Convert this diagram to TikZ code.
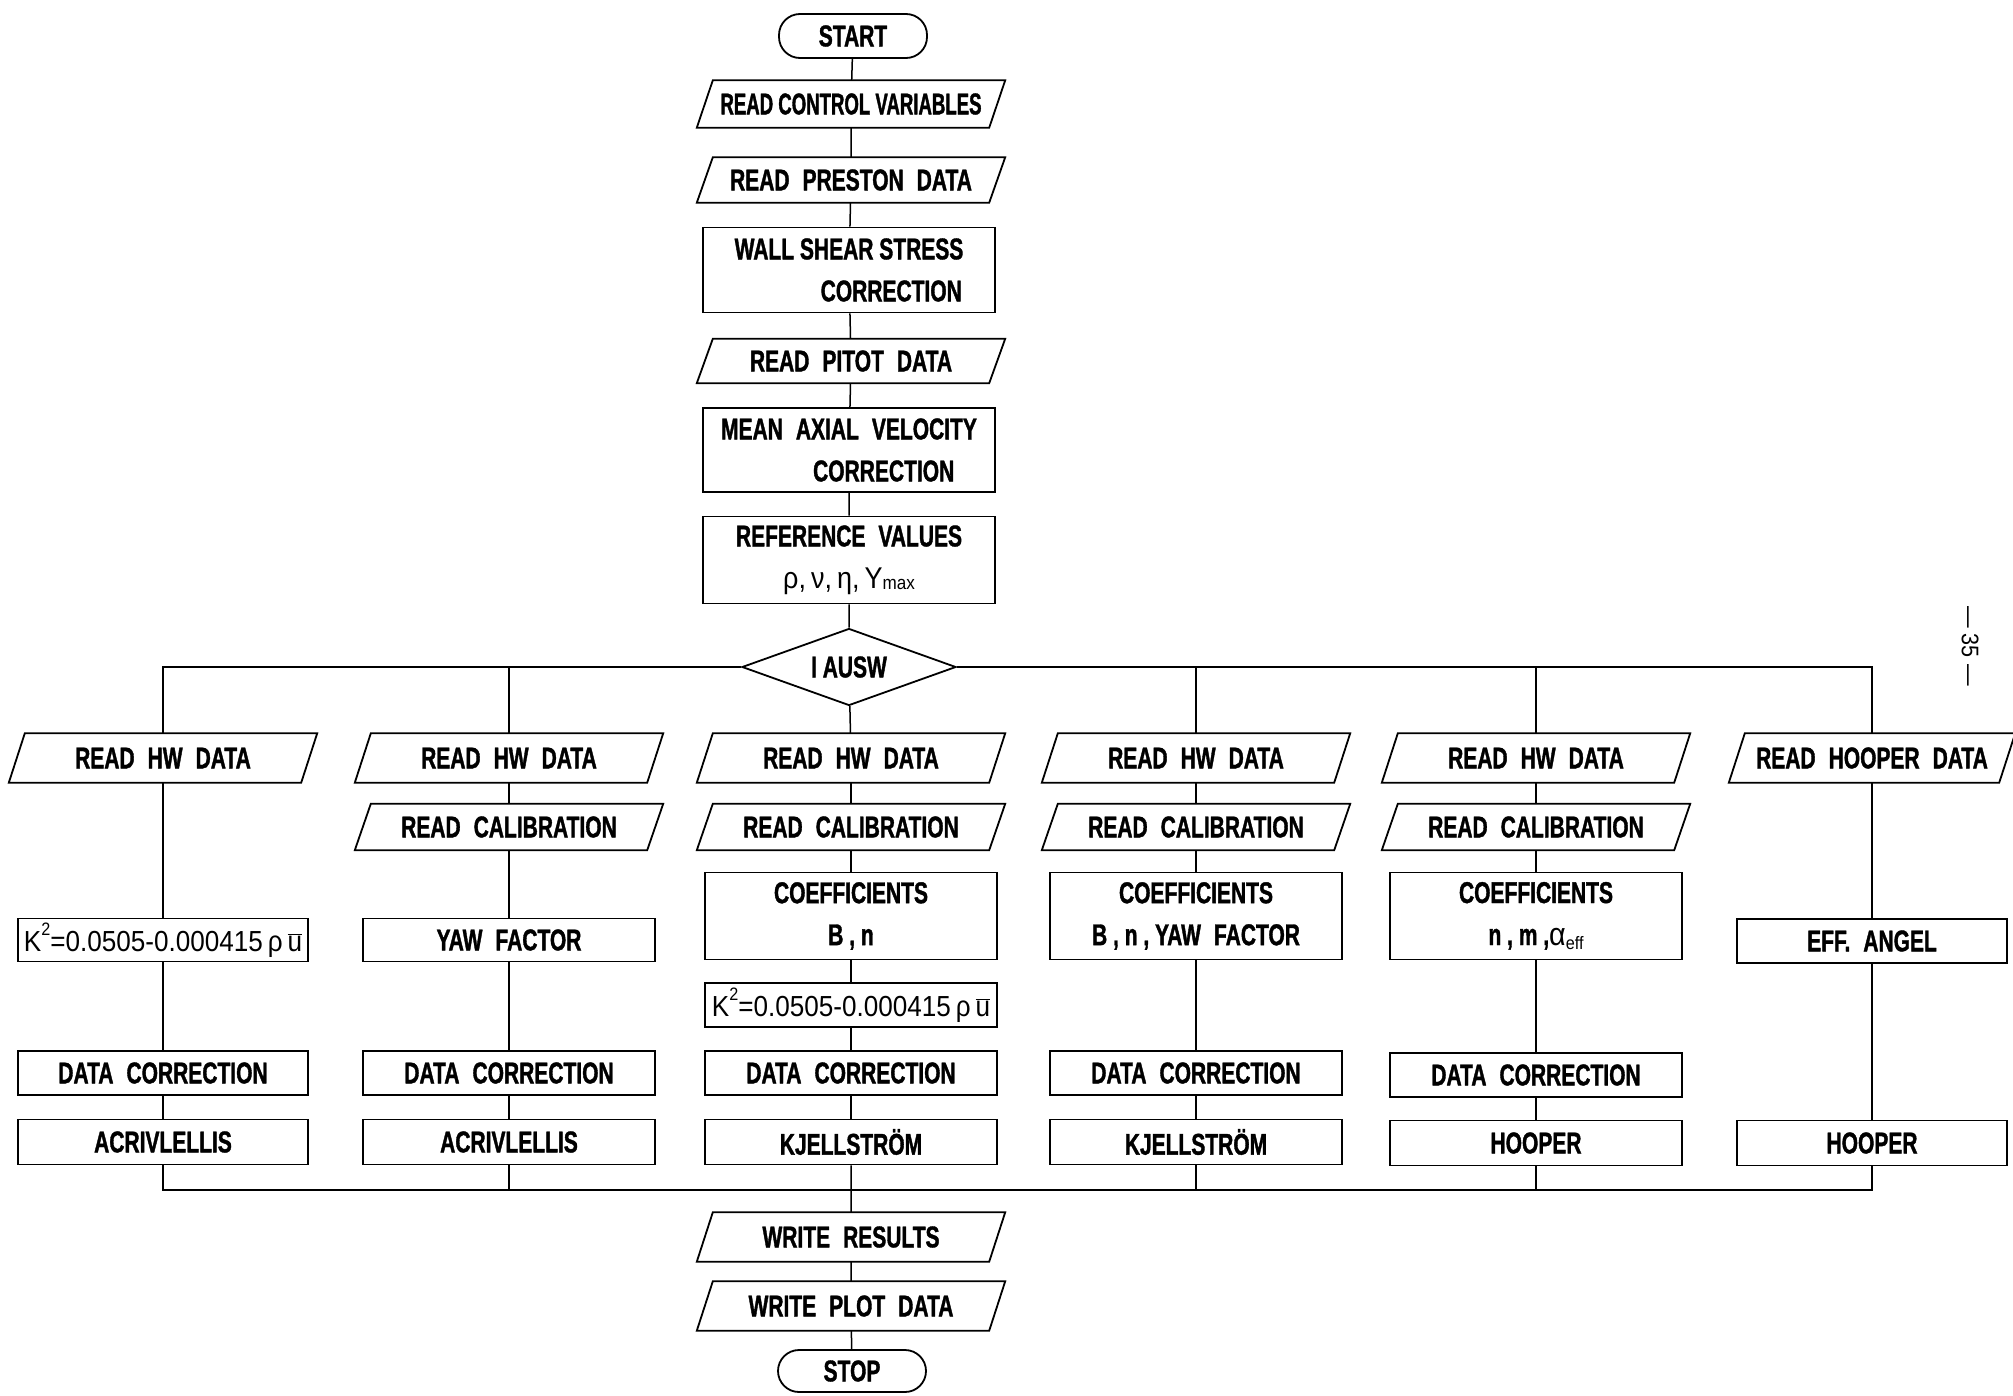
\documentclass[tikz,border=0pt]{standalone}
\usepackage{fontspec}
\setmainfont{Liberation Sans}
\newfontfamily\lblfont{Liberation Sans}[FakeStretch=0.7,FakeBold=1.2]
\newfontfamily\lbltight{Liberation Sans}[FakeStretch=0.62,FakeBold=1.2]
\newfontfamily\frmfont{Liberation Sans}[FakeStretch=0.9]
\usetikzlibrary{shapes.geometric}
\newcommand\ws{\hspace{13pt}}
\newcommand\frm{\frmfont\mdseries\fontsize{29}{42}\selectfont}
\newcommand\kform{{\frm K\raisebox{0.55em}{\fontsize{18}{18}\selectfont 2}=0.0505-0.000415\,ρ\,$\overline{\hbox{u}}$}}
\begin{document}
\begin{tikzpicture}[x=1pt,y=-1pt,
  every node/.style={font=\lblfont\bfseries\fontsize{30}{42}\selectfont, inner sep=0pt, align=center},
  proc/.style={draw, line width=1.8pt, rectangle, minimum width=292, minimum height=44},
  io/.style={rectangle, minimum width=292, minimum height=47},
  term/.style={draw, line width=1.8pt, rounded corners=21pt, minimum width=148, minimum height=44},
  dec/.style={draw, line width=1.8pt, diamond, aspect=2.8, minimum width=214, minimum height=77},
  link/.style={line width=1.5pt}]
\fill[white] (0,0) rectangle (2013,1395);
\useasboundingbox (0,0) rectangle (2013,1395);

% main column
\node[term] (start) at (853,36) {START};
\node[io] (rcv) at (851,104) {\lbltight READ CONTROL VARIABLES};
\node[io, minimum height=45] (rpd) at (851,180) {READ\ws PRESTON\ws DATA};
\node[proc, minimum height=85, align=left] (wss) at (849,270) {WALL SHEAR STRESS\\\hspace*{86pt}CORRECTION};
\node[io, minimum height=44] (rpt) at (851,361) {READ\ws PITOT\ws DATA};
\node[proc, minimum height=84, align=left] (mav) at (849,450) {MEAN\ws AXIAL\ws VELOCITY\\\hspace*{92pt}CORRECTION};
\node[proc, minimum height=87] (ref) at (849,560) {REFERENCE\ws VALUES\\{\frm\fontsize{30}{30}\selectfont ρ,\,ν,\,η,\,Y\raisebox{-0.05em}{\fontsize{19}{19}\selectfont max}}};
\node[dec] (dec) at (849,667) {I AUSW};

% column 1
\node[io, minimum height=49] (c1rhw) at (163,758) {READ\ws HW\ws DATA};
\node[proc, minimum width=290, minimum height=43] (c1k2) at (163,940) {\kform};
\node[proc, minimum width=290] (c1dc) at (163,1073) {DATA\ws CORRECTION};
\node[proc, minimum width=290, minimum height=45] (c1fin) at (163,1142) {ACRIVLELLIS};

% column 2
\node[io, minimum height=49] (c2rhw) at (509,758) {READ\ws HW\ws DATA};
\node[io, minimum height=46] (c2rcal) at (509,827) {READ\ws CALIBRATION};
\node[proc, minimum height=43] (c2yaw) at (509,940) {YAW\ws FACTOR};
\node[proc] (c2dc) at (509,1073) {DATA\ws CORRECTION};
\node[proc, minimum height=45] (c2fin) at (509,1142) {ACRIVLELLIS};

% column 3
\node[io, minimum height=49] (c3rhw) at (851,758) {READ\ws HW\ws DATA};
\node[io, minimum height=46] (c3rcal) at (851,827) {READ\ws CALIBRATION};
\node[proc, minimum height=87] (c3co) at (851,916) {COEFFICIENTS\\B , n};
\node[proc] (c3k2) at (851,1005) {\kform};
\node[proc] (c3dc) at (851,1073) {DATA\ws CORRECTION};
\node[proc, minimum height=45] (c3fin) at (851,1142) {KJELLSTRÖM};

% column 4
\node[io, minimum height=49] (c4rhw) at (1196,758) {READ\ws HW\ws DATA};
\node[io, minimum height=46] (c4rcal) at (1196,827) {READ\ws CALIBRATION};
\node[proc, minimum height=87] (c4co) at (1196,916) {COEFFICIENTS\\B , n , YAW\ws FACTOR};
\node[proc] (c4dc) at (1196,1073) {DATA\ws CORRECTION};
\node[proc, minimum height=45] (c4fin) at (1196,1142) {KJELLSTRÖM};

% column 5
\node[io, minimum height=49] (c5rhw) at (1536,758) {READ\ws HW\ws DATA};
\node[io, minimum height=46] (c5rcal) at (1536,827) {READ\ws CALIBRATION};
\node[proc, minimum height=87] (c5co) at (1536,916) {COEFFICIENTS\\n , m ,{\frm\fontsize{32}{32}\selectfont α\raisebox{-0.15em}{\fontsize{18}{18}\selectfont eff}}};
\node[proc] (c5dc) at (1536,1075) {DATA\ws CORRECTION};
\node[proc, minimum height=45] (c5fin) at (1536,1143) {HOOPER};

% column 6
\node[io, minimum width=270, minimum height=49] (c6rhw) at (1872,758) {READ\ws HOOPER\ws DATA};
\node[proc, minimum width=270, minimum height=44] (c6eff) at (1872,941) {EFF.\ws ANGEL};
\node[proc, minimum width=270, minimum height=45] (c6fin) at (1872,1143) {HOOPER};

% output
\node[io, minimum height=49] (wr) at (851,1237) {WRITE\ws RESULTS};
\node[io, minimum height=49] (wpd) at (851,1306) {WRITE\ws PLOT\ws DATA};
\node[term, minimum height=42] (stop) at (852,1371) {STOP};

% page number
\node[font=\frmfont\mdseries\fontsize{24}{24}\selectfont, rotate=-90] (pg) at (1970,646) {— 35 —};

% parallelogram outlines
\foreach \n in {rcv,rpd,rpt,c1rhw,c2rhw,c2rcal,c3rhw,c3rcal,c4rhw,c4rcal,c5rhw,c5rcal,c6rhw,wr,wpd}
  \draw[line width=1.8pt] ([xshift=8pt]\n.north west) -- ([xshift=8pt]\n.north east)
     -- ([xshift=-8pt]\n.south east) -- ([xshift=-8pt]\n.south west) -- cycle;

% bus coordinates
\coordinate (b2) at (509,667);
\coordinate (b4) at (1196,667);
\coordinate (b5) at (1536,667);
\coordinate (e2) at (509,1190);
\coordinate (e4) at (1196,1190);
\coordinate (e5) at (1536,1190);
\coordinate (e6) at (1872,1190);

% connectors
\draw[link] (start) -- (rcv) -- (rpd) -- (wss) -- (rpt) -- (mav) -- (ref) -- (dec);
\draw[link] (dec.west) -| (c1rhw);
\draw[link] (dec.east) -| (c6rhw);
\draw[link] (b2) -- (c2rhw);
\draw[link] (b4) -- (c4rhw);
\draw[link] (b5) -- (c5rhw);
\draw[link] (dec) -- (c3rhw);

\draw[link] (c1rhw) -- (c1k2) -- (c1dc) -- (c1fin);
\draw[link] (c2rhw) -- (c2rcal) -- (c2yaw) -- (c2dc) -- (c2fin);
\draw[link] (c3rhw) -- (c3rcal) -- (c3co) -- (c3k2) -- (c3dc) -- (c3fin);
\draw[link] (c4rhw) -- (c4rcal) -- (c4co) -- (c4dc) -- (c4fin);
\draw[link] (c5rhw) -- (c5rcal) -- (c5co) -- (c5dc) -- (c5fin);
\draw[link] (c6rhw) -- (c6eff) -- (c6fin);

\draw[link] (c1fin) |- (e6) -- (c6fin);
\draw[link] (c2fin) -- (e2);
\draw[link] (c4fin) -- (e4);
\draw[link] (c5fin) -- (e5);
\draw[link] (c3fin) -- (wr) -- (wpd) -- (stop);
\end{tikzpicture}
\end{document}
